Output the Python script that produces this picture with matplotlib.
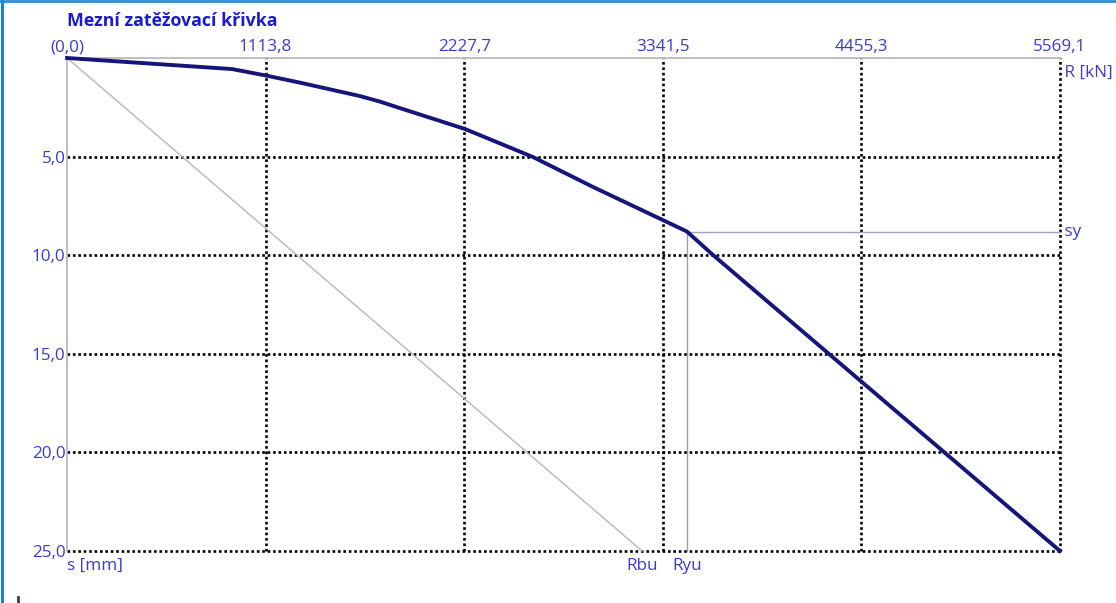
import matplotlib.pyplot as plt
from matplotlib.lines import Line2D

plt.rcParams['font.family'] = ['Open Sans', 'DejaVu Sans']

R_MAX = 5569.1
S_MAX = 25.0
r_ticks = [0.0, 1113.8, 2227.7, 3341.5, 4455.3, 5569.1]
s_ticks = [5.0, 10.0, 15.0, 20.0, 25.0]

# limit load-settlement curve R [kN] vs s [mm]
curve_R = [0, 925, 1122, 1307, 1643, 1755, 1867, 2232, 2613, 2950, 3342, 3477, 3623, 5569.1]
curve_s = [0, 0.56, 0.90, 1.25, 1.93, 2.21, 2.54, 3.60, 5.02, 6.54, 8.22, 8.80, 9.99, 25.0]

Rbu = 3225.0
Ryu = 3477.0
sy = 8.8

BLUE = '#3b3bd0'
NAVY = '#15157a'
FS = 12.3


def fmt(v):
    return f'{v:.1f}'.replace('.', ',')


fig = plt.figure(figsize=(11.16, 6.03), dpi=100)
ax = fig.add_axes([67 / 1116, 1 - 551 / 603, (1060 - 67) / 1116, (551 - 58) / 603])
ax.set_xlim(0, R_MAX)
ax.set_ylim(S_MAX, 0)

for sp in ('right', 'bottom'):
    ax.spines[sp].set_visible(False)
for sp in ('left', 'top'):
    ax.spines[sp].set_color('#b4b4b4')
    ax.spines[sp].set_linewidth(1.2)

# dotted grid
for r in r_ticks[1:]:
    ax.axvline(r, color='black', lw=1.9, ls=(0, (1, 1.05)), zorder=1, clip_on=False)
for s in s_ticks:
    ax.axhline(s, color='black', lw=1.9, ls=(0, (1, 1.05)), zorder=1, clip_on=False)

ax.xaxis.tick_top()
ax.set_xticks(r_ticks)
ax.set_xticklabels(['(0,0)'] + [fmt(v) for v in r_ticks[1:]])
ax.set_yticks(s_ticks)
ax.set_yticklabels([fmt(v) for v in s_ticks])
ax.tick_params(axis='x', length=0, pad=2.0, labelsize=FS, labelcolor=BLUE)
ax.tick_params(axis='y', length=0, pad=1, labelsize=FS, labelcolor=BLUE)
for lab in ax.get_yticklabels():
    lab.set_verticalalignment('center_baseline')

# secant line to Rbu and yield point guides
ax.plot([0, Rbu], [0, S_MAX], color='#b8b8b8', lw=1.0, zorder=2, clip_on=False)
ax.plot([Ryu, Ryu], [sy, S_MAX], color='#9a9ab4', lw=1.0, zorder=2, clip_on=False)
ax.plot([Ryu, R_MAX], [sy, sy], color='#a0a0d0', lw=1.0, zorder=2, clip_on=False)

ax.plot(curve_R, curve_s, color=NAVY, lw=2.8, zorder=3, clip_on=False,
        solid_joinstyle='round')

ax.text(R_MAX, 0.75, ' R [kN]', color=BLUE, fontsize=FS, ha='left', va='center')
ax.text(R_MAX, sy, ' sy', color=BLUE, fontsize=FS, ha='left', va='center')
ax.text(0, S_MAX + 0.35, 's [mm]', color=BLUE, fontsize=FS, ha='left', va='top')
ax.text(Rbu, S_MAX + 0.35, 'Rbu', color=BLUE, fontsize=FS, ha='center', va='top')
ax.text(Ryu, S_MAX + 0.35, 'Ryu', color=BLUE, fontsize=FS, ha='center', va='top')

fig.text(67 / 1116, 1 - 21 / 603, 'Mezní zatěžovací křivka', color='#1a1ad0',
         fontsize=12.8, fontweight='bold', ha='left', va='center')

# window frame
fig.add_artist(Line2D([2 / 1116, 2 / 1116], [0, 1], transform=fig.transFigure,
                      color='#1f80d2', lw=2.2))
fig.add_artist(Line2D([0, 1], [1 - 1 / 603, 1 - 1 / 603], transform=fig.transFigure,
                      color='#2a8ad8', lw=2.0))
fig.add_artist(Line2D([18 / 1116, 18 / 1116], [0, 6 / 603], transform=fig.transFigure,
                      color='#503050', lw=2.0))

fig.savefig('out.png', dpi=100)
